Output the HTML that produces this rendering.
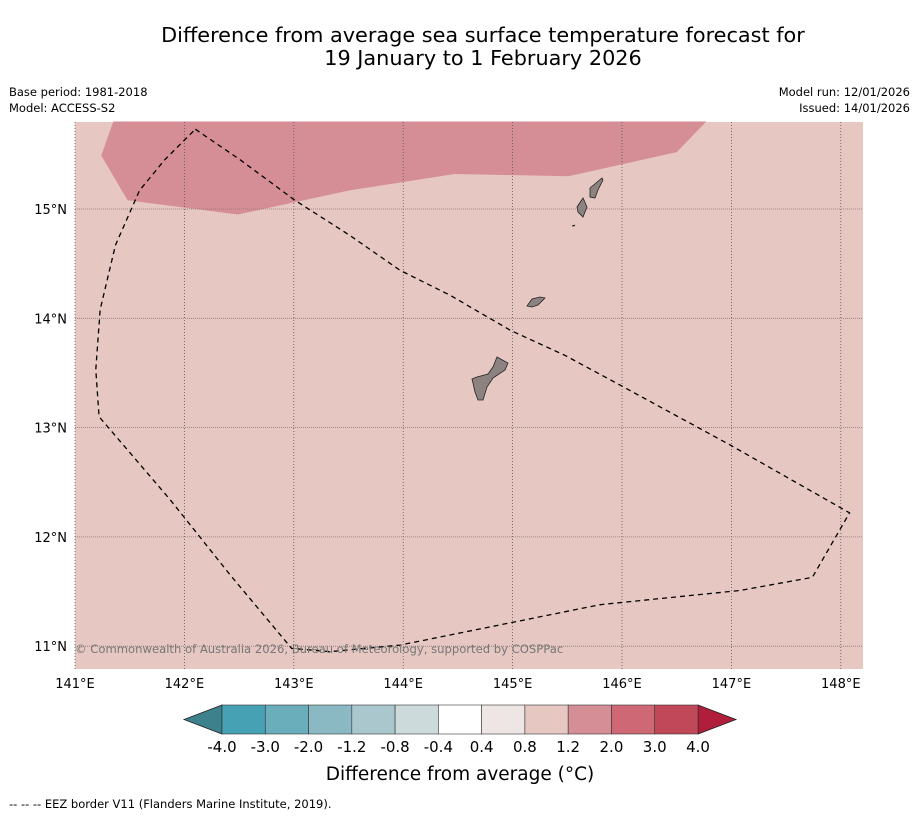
<!DOCTYPE html>
<html><head><meta charset="utf-8"><style>
body{margin:0;background:#fff;width:919px;height:816px;overflow:hidden;font-family:"Liberation Sans","DejaVu Sans",sans-serif}
svg text{font-family:"DejaVu Sans","Liberation Sans",sans-serif}
</style></head><body>
<svg id="c" width="919" height="816">
<text x="483" y="42" font-size="20.8" text-anchor="middle">Difference from average sea surface temperature forecast for</text>
<text x="483" y="65" font-size="20.8" text-anchor="middle">19 January to 1 February 2026</text>
<text x="9" y="96" font-size="11.5">Base period: 1981-2018</text>
<text x="9" y="112" font-size="11.5">Model: ACCESS-S2</text>
<text x="910" y="96" font-size="11.5" text-anchor="end">Model run: 12/01/2026</text>
<text x="910" y="112" font-size="11.5" text-anchor="end">Issued: 14/01/2026</text>
<g id="map"></g>
<g id="cb"></g>
<text x="460" y="780" font-size="18.5" text-anchor="middle">Difference from average (°C)</text>
<text x="9" y="808" font-size="11.5">--  --  -- EEZ border V11 (Flanders Marine Institute, 2019).</text>
</svg>
<script>
const lonTicks=[141,142,143,144,145,146,147,148];
const latTicks=[11,12,13,14,15];
const eezLon=[142.10,142.51,143.01,143.51,143.97,144.43,144.98,145.48,145.98,146.99,148.08,147.74,147.08,145.80,143.97,143.33,142.98,142.42,141.87,141.22,141.19,141.23,141.37,141.59,141.82,142.10];
const eezLat=[15.73,15.45,15.08,14.76,14.44,14.21,13.89,13.66,13.39,12.84,12.22,11.63,11.51,11.38,11.01,10.95,10.98,11.65,12.34,13.10,13.53,14.08,14.67,15.17,15.45,15.73];
const warmLon=[141.35,141.24,141.48,142.49,143.51,144.47,145.51,146.50,146.77];
const warmLat=[15.80,15.49,15.08,14.95,15.17,15.32,15.30,15.52,15.80];
const cbLevels=[-4.0,-3.0,-2.0,-1.2,-0.8,-0.4,0.4,0.8,1.2,2.0,3.0,4.0];
const cbColors=["#46a1b4","#6aadbb","#8ab8c3","#a9c7cc","#ccdadc","#ffffff","#ede6e4","#e6c7c2","#d68e96","#cd6874","#c04858"];
const NS="http://www.w3.org/2000/svg";
const X=lon=>75+(lon-141)*109.4, Y=lat=>209-(lat-15)*109.3;
function mk(p,t,a){const e=document.createElementNS(NS,t);for(const k in a)e.setAttribute(k,a[k]);p.appendChild(e);return e;}
const map=document.getElementById('map');
let r=mk(map,'rect',{x:75,y:122,width:788,height:547,fill:'#e6c7c2'});


let w=mk(map,'polygon',{points:warmLon.map((l,i)=>X(l)+','+Y(warmLat[i])).join(' '),fill:'#d68e96'});


lonTicks.forEach(l=>{const x=X(l);
 const g=mk(map,'line',{x1:x,x2:x,y1:122,y2:669,stroke:'#555',"stroke-width":0.8,"stroke-dasharray":"1,2"});
 
 
 const t=mk(map,'text',{x:x,y:688,"font-size":13,"text-anchor":"middle"});t.textContent=l+'°E';
 
 });
latTicks.forEach(l=>{const y=Y(l);
 const g=mk(map,'line',{x1:75,x2:863,y1:y,y2:y,stroke:'#8a7370',"stroke-width":0.8,"stroke-dasharray":"1,1"});
 
 
 const t=mk(map,'text',{x:67,y:y+5,"font-size":13,"text-anchor":"end"});t.textContent=l+'°N';
 
 });
const isl=[["guam","497,357 508,363 505,370 493,378 487,387 483,400 478,400 475,392 473,383 472,379 477,377 488,374 493,367"],
["rota","527,306 532,299 540,297 545,298 538,305 532,307"],
["tinian","577,207 583,198 587,207 583,217 578,212"],
["saipan","590,188 602,178 603,180 598,190 595,198 590,197"],
["aguijan","572,226 575,225 574,226"]];
isl.forEach(([n,p])=>{const e=mk(map,'polygon',{points:p,fill:'#8c8380',stroke:'#222',"stroke-width":0.8});
 
 });
let eez=mk(map,'polyline',{points:eezLon.map((l,i)=>X(l)+','+Y(eezLat[i])).join(' '),fill:'none',stroke:'#000',"stroke-width":1.3,"stroke-dasharray":"5,4"});


let cr=mk(map,'text',{x:75,y:653,"font-size":11.6,fill:'#777'});cr.textContent='© Commonwealth of Australia 2026, Bureau of Meteorology, supported by COSPPac';


const cb=document.getElementById('cb');
const bx0=222,bx1=698,bw=(bx1-bx0)/cbColors.length;
let le=mk(cb,'polygon',{points:`222,705 184,719.5 222,734`,fill:'#3d818c',stroke:'#222',"stroke-width":0.8});


let re=mk(cb,'polygon',{points:`698,705 736,719.5 698,734`,fill:'#b01e3c',stroke:'#222',"stroke-width":0.8});


cbColors.forEach((c,i)=>{const e=mk(cb,'rect',{x:bx0+i*bw,y:705,width:bw,height:29,fill:c,stroke:'#333',"stroke-width":0.6});
 
 });
cbLevels.forEach((v,i)=>{const t=mk(cb,'text',{x:bx0+i*bw,y:752,"font-size":15,"text-anchor":"middle"});t.textContent=v.toFixed(1);
 
 });
</script>
</body></html>
